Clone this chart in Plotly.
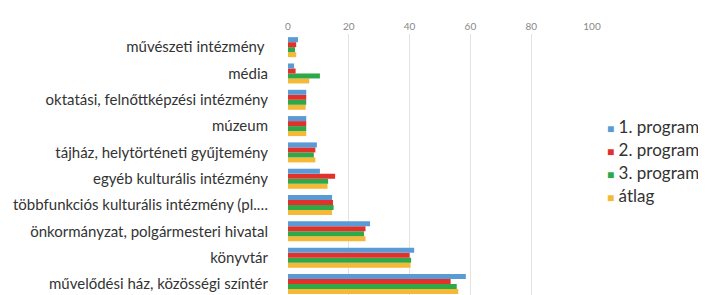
import plotly.graph_objects as go

categories = [
    "művelődési ház, közösségi színtér",
    "könyvtár",
    "önkormányzat, polgármesteri hivatal",
    "többfunkciós kulturális intézmény (pl.…",
    "egyéb kulturális intézmény",
    "tájház, helytörténeti gyűjtemény",
    "múzeum",
    "oktatási, felnőttképzési intézmény",
    "média",
    "művészeti intézmény ",
]
program1 = [58.5, 41.5, 27, 14.5, 10.5, 9.5, 6, 6, 2, 3.3]
program2 = [53.5, 40, 25.5, 14.8, 15.5, 9, 6, 6, 2.5, 2.7]
program3 = [55.5, 40.5, 25, 15, 13.2, 8.5, 6, 6, 10.5, 2.3]
atlag = [56, 40.3, 25.5, 14.5, 13, 9, 6, 5.8, 7, 2.7]

series_names = ["1. program", "2. program", "3. program", "átlag"]
series_values = [program1, program2, program3, atlag]
series_colors = ["#5b9bd5", "#e2312b", "#2fa84a", "#f6b935"]
x_ticks = [0, 20, 40, 60, 80, 100]

# the page body has an 8px default margin, so the figure is 8px smaller
W, H = 698, 287
ML, MR, MT, MB = 280, 114, 26, 0
FONT = "Lato, Open Sans, sans-serif"

fig = go.Figure()
for name, vals, color in reversed(list(zip(series_names, series_values, series_colors))):
    fig.add_trace(go.Bar(
        y=categories, x=vals, name=name, orientation="h",
        marker=dict(color=color, line=dict(width=0)),
        showlegend=False,
    ))

# legend drawn as text (small coloured square + label), like the reference
legend_top_px, legend_step_px = 118, 23.3
plot_h = H - MT - MB
for i, (name, color) in enumerate(zip(series_names, series_colors)):
    py = legend_top_px + i * legend_step_px
    fig.add_annotation(
        xref="paper", yref="paper",
        x=(597 - ML) / (W - ML - MR), y=(H - MB - py) / plot_h,
        xanchor="left", yanchor="middle", showarrow=False,
        text=f'<span style="color:{color};font-size:12px">■</span> {name}',
        font=dict(family=FONT, size=17, color="#333"),
    )

fig.update_layout(
    width=W, height=H,
    margin=dict(l=ML, r=MR, t=MT, b=MB, autoexpand=False),
    paper_bgcolor="white", plot_bgcolor="white",
    barmode="group", bargap=0.24, bargroupgap=0,
    font=dict(family=FONT, color="#333"),
    showlegend=False,
)
fig.update_xaxes(
    side="top", range=[0, 100], tickvals=x_ticks,
    tickfont=dict(size=10, color="#888"),
    showgrid=True, gridcolor="#e3e3e3", gridwidth=1,
    zeroline=False, showline=False, ticks="", automargin=False,
    ticklabelstandoff=1,
)
fig.update_yaxes(
    type="category", range=[-0.42, 9.5],
    tickfont=dict(size=15, color="#333"),
    ticklabelstandoff=19, showline=False, ticks="", showgrid=False,
    automargin=False,
)

fig.write_html("out.html")
